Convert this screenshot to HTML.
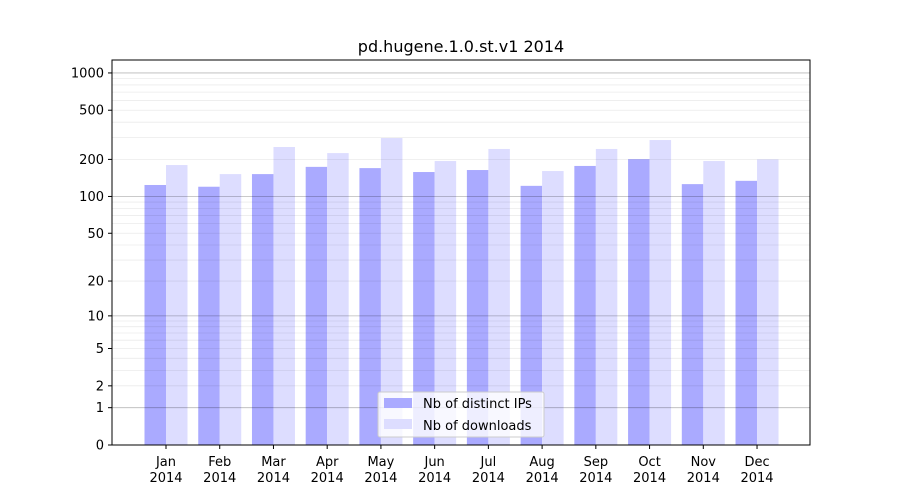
<!DOCTYPE html>
<html><head><meta charset="utf-8"><style>
body{margin:0;background:#fff;}
svg{display:block;font-family:"DejaVu Sans","Liberation Sans",sans-serif;}
</style></head><body>
<svg id="s" width="900" height="500" xmlns="http://www.w3.org/2000/svg">
<rect width="900" height="500" fill="#fff"/>
<g id="bars"></g>
<g id="grid"></g>
<rect x="112" y="60" width="698" height="385" fill="none" stroke="#000" stroke-width="1"/>
<g id="ticks" font-size="13" fill="#000"></g>
<text x="461" y="52" font-size="16" text-anchor="middle">pd.hugene.1.0.st.v1 2014</text>
<g>
<rect x="378" y="392" width="166" height="45" fill="#fff" fill-opacity="0.8" stroke="#ccc" rx="2"/>
<rect x="384" y="398" width="28" height="10" fill="#aaaaff"/>
<text x="423" y="408" font-size="13">Nb of distinct IPs</text>
<rect x="384" y="419" width="28" height="10" fill="#ddddff"/>
<text x="423" y="430" font-size="13">Nb of downloads</text>
</g>
</svg>
<script>
var NS="http://www.w3.org/2000/svg";
function el(p,t,a,txt){var e=document.createElementNS(NS,t);for(var k in a)e.setAttribute(k,a[k]);if(txt!=null)e.textContent=txt;document.getElementById(p).appendChild(e);return e;}
function Y(v){return 445-124*Math.log10(1+v);}
[1,10,100].forEach(function(d){for(var i=2;i<=9;i++){var y=Y(i*d);el("grid","line",{x1:112,x2:810,y1:y,y2:y,stroke:"#000","stroke-opacity":0.08,"stroke-width":0.8});}});
[1,10,100,1000].forEach(function(v){var y=Y(v);el("grid","line",{x1:112,x2:810,y1:y,y2:y,stroke:"#000","stroke-opacity":0.28,"stroke-width":0.8});});
var ip=[124,120,152,174,170,158,164,122,177,201,126,134];
var dl=[180,152,252,225,298,194,243,161,243,287,194,200];
var m=["Jan","Feb","Mar","Apr","May","Jun","Jul","Aug","Sep","Oct","Nov","Dec"];
for(var i=0;i<12;i++){var c=166+i*53.73;
el("bars","rect",{x:c-21.5,y:Y(ip[i]),width:21.5,height:445-Y(ip[i]),fill:"#aaaaff"});
el("bars","rect",{x:c,y:Y(dl[i]),width:21.5,height:445-Y(dl[i]),fill:"#ddddff"});
el("ticks","line",{x1:c,x2:c,y1:445,y2:449,stroke:"#000"});
el("ticks","text",{x:c,y:466,"text-anchor":"middle"},m[i]);
el("ticks","text",{x:c,y:482,"text-anchor":"middle"},"2014");}
[0,1,2,5,10,20,50,100,200,500,1000].forEach(function(v){var y=Y(v);
el("ticks","line",{x1:108,x2:112,y1:y,y2:y,stroke:"#000"});
el("ticks","text",{x:104,y:y+4.5,"text-anchor":"end"},String(v));});
</script>
</body></html>
